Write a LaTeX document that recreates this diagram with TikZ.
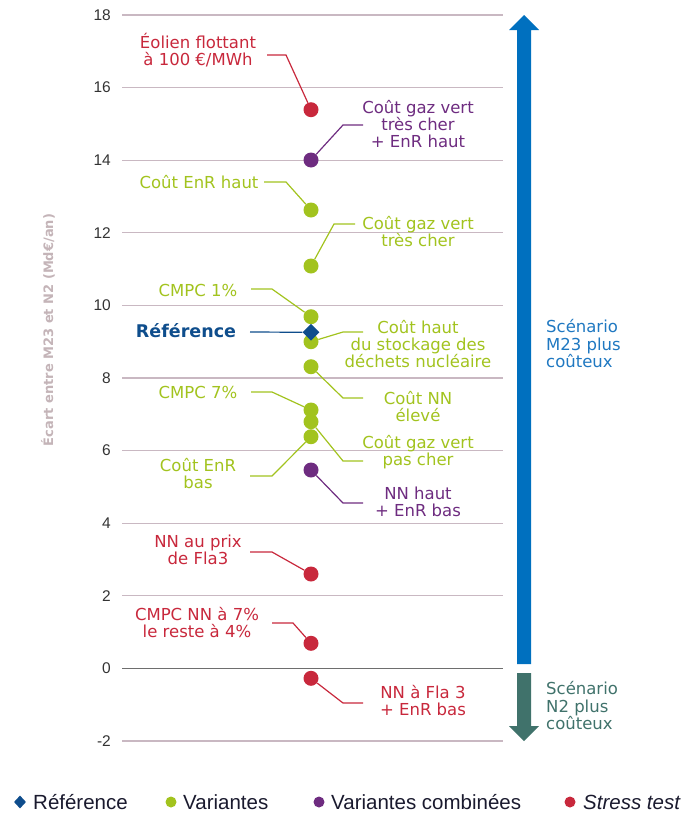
\documentclass[tikz,border=0pt]{standalone}
\usepackage{fontspec}
\setmainfont{DejaVu Sans}
\newfontfamily\tickfont{Liberation Sans}
\usetikzlibrary{shapes.geometric}
\definecolor{cred}{HTML}{C8283C}
\definecolor{cpur}{HTML}{6E2C80}
\definecolor{cgrn}{HTML}{A2C31E}
\definecolor{cref}{HTML}{0E4D8C}
\definecolor{cblue}{HTML}{0070BF}
\definecolor{cblt}{HTML}{1F78C1}
\definecolor{cteal}{HTML}{40726B}
\definecolor{cgrid}{HTML}{C9B8C2}
\definecolor{czero}{HTML}{6E6E6E}
\definecolor{cylab}{HTML}{C4B4B8}
\definecolor{ctick}{HTML}{333333}
\definecolor{cleg}{HTML}{1A1A2E}
\begin{document}
\begin{tikzpicture}[x=1pt,y=-1pt,
  gridline/.style={draw=cgrid,line width=1.1pt},
  tick/.style={anchor=east,font=\tickfont\fontsize{15.5}{17}\selectfont,text=ctick,inner sep=0pt},
  lab/.style={align=center,font=\fontsize{16.5}{17}\selectfont,inner sep=0pt},
  leader/.style={line width=1.2pt},
  dot/.style={circle,minimum size=15pt,inner sep=0pt},
  refmark/.style={diamond,fill=cref,minimum width=17pt,minimum height=17pt,inner sep=0pt},
  scen/.style={anchor=west,align=left,font=\fontsize{16.5}{17.5}\selectfont,inner sep=0pt},
  legtext/.style={anchor=west,font=\tickfont\fontsize{20.5}{21}\selectfont,text=cleg,inner sep=0pt},
  legdot/.style={circle,minimum size=11pt,inner sep=0pt}]
\useasboundingbox (0,0) rectangle (685,814);
% grid
\foreach \v in {18,16,...,2,-2}{
  \draw[gridline] (122,{668.4-36.3*\v}) -- (503,{668.4-36.3*\v});
}
\draw[draw=czero,line width=1.2pt] (122,668.4) -- (503,668.4);
\foreach \v in {18,16,...,-2}{
  \node[tick] (t\v) at (111,{668.4-36.3*\v}) {\v};
}
% y label
\node[rotate=90,font=\bfseries\fontsize{13}{14}\selectfont,text=cylab] (ylab) at (48,330) {Écart entre M23 et N2 (Md€/an)};
% arrows
\fill[cblue] (517,664) -- (517,30) -- (509,30) -- (524,15) -- (539,30) -- (531,30) -- (531,664) -- cycle;
\fill[cteal] (517,673) -- (517,726) -- (509,726) -- (524,741) -- (539,726) -- (531,726) -- (531,673) -- cycle;
\node[scen,text=cblt] (s1) at (546,344) {Scénario\\M23 plus\\coûteux};
\node[scen,text=cteal] (s2) at (546,706) {Scénario\\N2 plus\\coûteux};
% dots
\node[dot,fill=cred] (d1) at (311,109.7) {};
\node[dot,fill=cpur] (d2) at (311,160) {};
\node[dot,fill=cgrn] (d3) at (311,210) {};
\node[dot,fill=cgrn] (d4) at (311,266) {};
\node[dot,fill=cgrn] (d5) at (311,316.7) {};
\node[dot,fill=cgrn] (d7) at (311,341.7) {};
\node[refmark] (ref) at (311,332.3) {};
\node[dot,fill=cgrn] (d8) at (311,366.7) {};
\node[dot,fill=cgrn] (d9) at (311,410) {};
\node[dot,fill=cgrn] (d10) at (311,421.7) {};
\node[dot,fill=cgrn] (d11) at (311,436.7) {};
\node[dot,fill=cpur] (d12) at (311,470) {};
\node[dot,fill=cred] (d13) at (311,574) {};
\node[dot,fill=cred] (d14) at (311,643.3) {};
\node[dot,fill=cred] (d15) at (311,678.3) {};
% labels
\node[lab,text=cred] (l1) at (198,50) {Éolien flottant\\à 100 €/MWh};
\node[lab,text=cpur] (l2) at (418,124) {Coût gaz vert\\très cher\\+ EnR haut};
\node[lab,text=cgrn] (l3) at (199,182) {Coût EnR haut};
\node[lab,text=cgrn] (l4) at (418,232) {Coût gaz vert\\très cher};
\node[lab,text=cgrn] (l5) at (198,290) {CMPC 1\%};
\node[lab,text=cref,font=\bfseries\fontsize{17.5}{18}\selectfont] (l6) at (186,331) {Référence};
\node[lab,text=cgrn] (l7) at (418,344) {Coût haut\\du stockage des\\déchets nucléaire};
\node[lab,text=cgrn] (l8) at (418,407) {Coût NN\\élevé};
\node[lab,text=cgrn] (l9) at (198,392) {CMPC 7\%};
\node[lab,text=cgrn] (l10) at (418,452) {Coût gaz vert\\pas cher};
\node[lab,text=cgrn] (l11) at (198,474) {Coût EnR\\bas};
\node[lab,text=cpur] (l12) at (418,502) {NN haut\\+ EnR bas};
\node[lab,text=cred] (l13) at (198,550) {NN au prix\\de Fla3};
\node[lab,text=cred] (l14) at (197,623) {CMPC NN à 7\%\\le reste à 4\%};
\node[lab,text=cred] (l15) at (423,701) {NN à Fla 3\\+ EnR bas};
% leader coordinates
\coordinate (a1) at (267,55); \coordinate (b1) at (286,55);
\coordinate (a2) at (363,125); \coordinate (b2) at (343,125);
\coordinate (a3) at (264,182); \coordinate (b3) at (286,182);
\coordinate (a4) at (355,224); \coordinate (b4) at (334,224);
\coordinate (a5) at (251,289); \coordinate (b5) at (272,289);
\coordinate (a6) at (250,332);
\coordinate (a7) at (363,332); \coordinate (b7) at (343,332);
\coordinate (a8) at (363,398); \coordinate (b8) at (343,398);
\coordinate (a9) at (251,392); \coordinate (b9) at (272,392);
\coordinate (a10) at (363,461); \coordinate (b10) at (343,461);
\coordinate (a11) at (250,476); \coordinate (b11) at (272,476);
\coordinate (a12) at (363,503); \coordinate (b12) at (343,503);
\coordinate (a13) at (250,552); \coordinate (b13) at (272,552);
\coordinate (a14) at (272,623); \coordinate (b14) at (293,623);
\coordinate (a15) at (363,703); \coordinate (b15) at (343,703);
\draw[leader,cred] (a1) -- (b1) -- (d1);
\draw[leader,cpur] (a2) -- (b2) -- (d2);
\draw[leader,cgrn] (a3) -- (b3) -- (d3);
\draw[leader,cgrn] (a4) -- (b4) -- (d4);
\draw[leader,cgrn] (a5) -- (b5) -- (d5);
\draw[leader,cref] (a6) -- (ref);
\draw[leader,cgrn] (a7) -- (b7) -- (d7);
\draw[leader,cgrn] (a8) -- (b8) -- (d8);
\draw[leader,cgrn] (a9) -- (b9) -- (d9);
\draw[leader,cgrn] (a10) -- (b10) -- (d10);
\draw[leader,cgrn] (a11) -- (b11) -- (d11);
\draw[leader,cpur] (a12) -- (b12) -- (d12);
\draw[leader,cred] (a13) -- (b13) -- (d13);
\draw[leader,cred] (a14) -- (b14) -- (d14);
\draw[leader,cred] (a15) -- (b15) -- (d15);
% legend
\node[diamond,fill=cref,minimum width=12pt,minimum height=13pt,inner sep=0pt] (g1) at (20,802) {};
\node[legtext] (g1t) at (33,802) {Référence};
\node[legdot,fill=cgrn] (g2) at (171,802) {};
\node[legtext] (g2t) at (183,802) {Variantes};
\node[legdot,fill=cpur] (g3) at (319,802) {};
\node[legtext] (g3t) at (331,802) {Variantes combinées};
\node[legdot,fill=cred] (g4) at (570,802) {};
\node[legtext,font=\tickfont\itshape\fontsize{20.5}{21}\selectfont] (g4t) at (583,802) {Stress test};
\end{tikzpicture}
\end{document}
